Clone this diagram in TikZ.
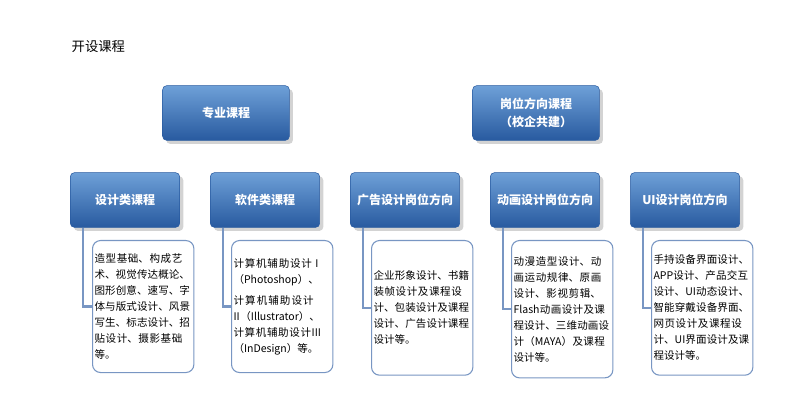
\documentclass[tikz,border=0pt]{standalone}
\usepackage{fontspec}
\setmainfont{Noto Sans CJK SC}
\XeTeXlinebreaklocale "zh"
\XeTeXlinebreakskip=0pt plus 1pt
\usetikzlibrary{positioning,shadows}
\definecolor{hdtop}{RGB}{110,160,215}
\definecolor{hdbot}{RGB}{40,90,160}
\definecolor{edge}{RGB}{120,150,195}
\tikzset{
  head/.style={rounded corners=3pt,top color=hdtop,bottom color=hdbot,draw=hdbot,
    text=white,font=\bfseries\fontsize{9}{11}\selectfont,align=center,
    drop shadow={opacity=0.35},minimum height=41pt},
  detail/.style={rounded corners=6pt,draw=edge,line width=0.8pt,fill=white,inner xsep=1.5pt,
    text width=73pt,align=left,font=\fontsize{7.9}{12}\selectfont,anchor=north west},
  link/.style={draw=edge,line width=1.6pt}
}
\begin{document}
\begin{tikzpicture}[x=0.75pt,y=-0.75pt]
  \useasboundingbox (0,0) rectangle (800,406);
  \node[anchor=west,font=\fontsize{10}{12}\selectfont] (title) at (67,47) {开设课程};
  % top level
  \node[head,minimum width=95pt] (major) at (226,113) {专业课程};
  \node[head,minimum width=95pt] (post) at (536,113) {岗位方向课程\\[2pt]（校企共建）};
  % second level
  \node[head,minimum width=82pt] (c1) at (125,200) {设计类课程};
  \node[head,minimum width=82pt] (c2) at (265,200) {软件类课程};
  \node[head,minimum width=82pt] (c3) at (405,200) {广告设计岗位方向};
  \node[head,minimum width=82pt] (c4) at (545,200) {动画设计岗位方向};
  \node[head,minimum width=82pt] (c5) at (685,200) {UI设计岗位方向};
  % details
  \node[detail,minimum height=99pt] (d1) at (92,240) {造型基础、构成艺术、视觉传达概论、图形创意、速写、字体与版式设计、风景写生、标志设计、招贴设计、摄影基础等。};
  \node[detail,minimum height=99pt] (d2) at (231,240) {计算机辅助设计 I（Photoshop）、\\[4pt]计算机辅助设计II（Illustrator）、计算机辅助设计III（InDesign）等。};
  \node[detail,minimum height=101pt] (d3) at (371,240) {企业形象设计、书籍装帧设计及课程设计、包装设计及课程设计、广告设计课程设计等。};
  \node[detail,minimum height=103pt] (d4) at (511,240) {动漫造型设计、动画运动规律、原画设计、影视剪辑、Flash动画设计及课程设计、三维动画设计（MAYA）及课程设计等。};
  \node[detail,minimum height=101pt] (d5) at (651,240) {手持设备界面设计、APP设计、产品交互设计、UI动态设计、智能穿戴设备界面、网页设计及课程设计、UI界面设计及课程设计等。};
  % connectors
  \foreach \i in {1,...,5}
    \draw[link] ([xshift=10pt]c\i.south west) |- (d\i.west);
\end{tikzpicture}
\end{document}
